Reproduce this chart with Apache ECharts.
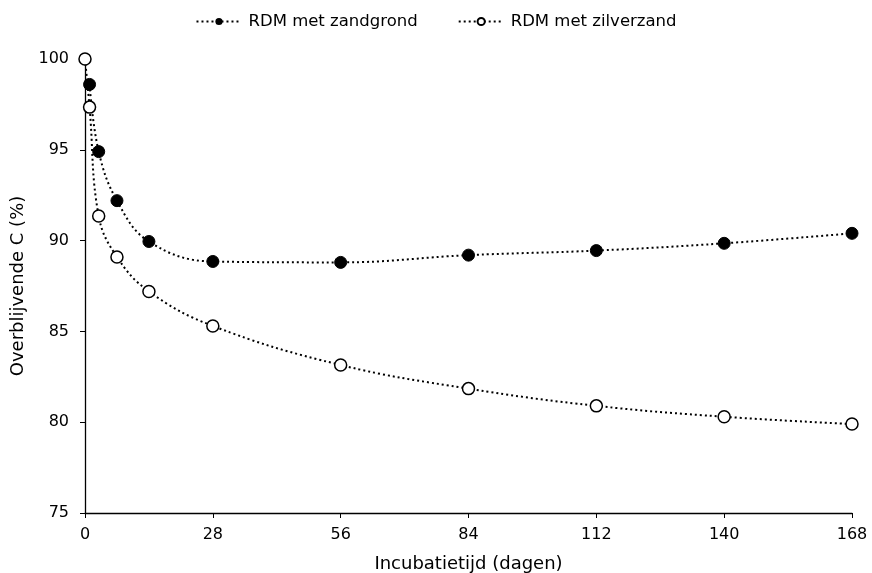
<!DOCTYPE html>
<html><head><meta charset="utf-8">
<script src="https://cdn.jsdelivr.net/npm/echarts@6/dist/echarts.min.js"></script>
<style>html,body{margin:0;padding:0;background:#fff}#c{width:872px;height:573px}</style>
</head><body><div id="c"></div>
<script>
const days = [1, 3, 7, 14, 28, 56, 84, 112, 140, 168];
const daysOpen = [0, 1, 3, 7, 14, 28, 56, 84, 112, 140, 168];
const zandgrond = [98.6, 94.9, 92.2, 89.95, 88.85, 88.8, 89.2, 89.45, 89.85, 90.4];
const zilverzand = [100, 97.35, 91.35, 89.1, 87.2, 85.3, 83.15, 81.85, 80.9, 80.3, 79.9];
const xTicks = [0, 28, 56, 84, 112, 140, 168];
const yTicks = [75, 80, 85, 90, 95, 100];
const names = ['RDM met zandgrond', 'RDM met zilverzand'];

const font = 'DejaVu Sans, Verdana, sans-serif';
const chart = echarts.init(document.getElementById('c'));
chart.setOption({
  animation: false,
  legend: {
    top: 8, left: 'center', itemGap: 40, itemWidth: 45, itemHeight: 9,
    textStyle: {fontFamily: font, fontSize: 16.5, color: '#000', padding: [0, 0, 0, 2]},
    data: names
  },
  grid: {left: 85, right: 20, top: 59, bottom: 60, containLabel: false, outerBoundsMode: 'none'},
  xAxis: {
    type: 'value', min: 0, max: 168, interval: 28,
    name: 'Incubatietijd (dagen)', nameLocation: 'middle', nameGap: 42,
    nameTextStyle: {fontFamily: font, fontSize: 18, color: '#000'},
    axisLine: {show: true, lineStyle: {color: '#000', width: 1.3}},
    axisTick: {show: true, length: 5, lineStyle: {color: '#000'}},
    axisLabel: {fontFamily: font, fontSize: 16, color: '#000', margin: 14},
    splitLine: {show: false}
  },
  yAxis: {
    type: 'value', min: 75, max: 100, interval: 5,
    name: 'Overblijvende C (%)', nameLocation: 'middle', nameGap: 57,
    nameTextStyle: {fontFamily: font, fontSize: 18, color: '#000'},
    axisLine: {show: true, lineStyle: {color: '#000', width: 1.3}},
    axisTick: {show: true, length: 5, lineStyle: {color: '#000'}},
    axisLabel: {fontFamily: font, fontSize: 16, color: '#000', margin: 16},
    splitLine: {show: false}
  },
  series: [
    {
      name: names[0], type: 'line', smooth: 0.4,
      data: days.map((d, i) => [d, zandgrond[i]]),
      symbol: 'circle', symbolSize: 12,
      itemStyle: {color: '#000', borderColor: '#000'},
      lineStyle: {color: '#000', width: 2, type: [2, 3]}
    },
    {
      name: names[1], type: 'line', smooth: 0.4,
      data: daysOpen.map((d, i) => [d, zilverzand[i]]),
      symbol: 'circle', symbolSize: 12,
      itemStyle: {color: '#fff', borderColor: '#000', borderWidth: 1.5},
      lineStyle: {color: '#000', width: 2, type: [2, 3]}
    }
  ]
});
</script></body></html>
